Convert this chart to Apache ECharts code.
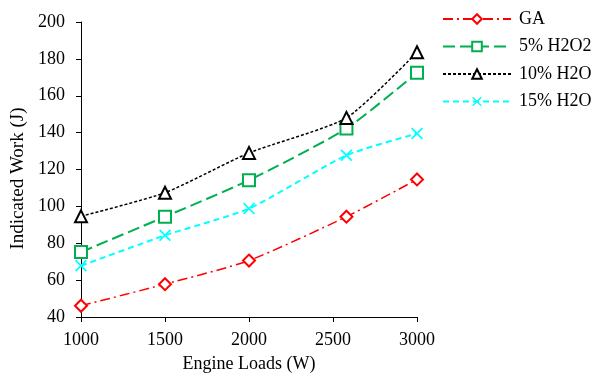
<!DOCTYPE html>
<html>
<head>
<meta charset="utf-8">
<script src="https://cdn.jsdelivr.net/npm/echarts@6/dist/echarts.min.js"></script>
<style>
  html, body { margin: 0; padding: 0; background: #fff; }
  #chart { width: 594px; height: 378px; }
</style>
</head>
<body>
<div id="chart"></div>
<script>
// engine loads (W)
var loads = [1000, 1500, 2000, 2580, 3000];
var seriesNames = ['GA', '5% H2O2', '10% H2O', '15% H2O'];
var gaWork = [46.1, 57.8, 70.6, 94.4, 114.6];
var h2o2Work = [75.2, 94.4, 114.2, 142.2, 172.5];
var h2o10Work = [94.6, 107.4, 129.0, 148.0, 183.6];
var h2o15Work = [67.8, 84.3, 98.8, 127.7, 139.5];
var yTicks = [40, 60, 80, 100, 120, 140, 160, 180, 200];

var font = '"Liberation Serif", "Times New Roman", serif';
var crossPath = 'path://M0,1L1,0L5,4L9,0L10,1L6,5L10,9L9,10L5,6L1,10L0,9L4,5Z';

function pairs(vals) {
    return loads.map(function (x, i) { return [x, vals[i]]; });
}

var myChart = echarts.init(document.getElementById('chart'));
var option = {
    animation: false,
    grid: { left: 81, right: 177, top: 22, bottom: 60 },
    legend: {
        orient: 'vertical',
        left: 437,
        top: 5,
        itemWidth: 68,
        itemHeight: 12,
        itemGap: 9.5,
        textStyle: { fontFamily: font, fontSize: 18, lineHeight: 18, color: '#000', padding: [0, 0, 0, 3] },
        data: seriesNames
    },
    xAxis: {
        type: 'value',
        min: 1000,
        max: 3000,
        interval: 500,
        name: 'Engine Loads (W)',
        nameLocation: 'middle',
        nameGap: 38,
        nameTextStyle: { fontFamily: font, fontSize: 18, color: '#000' },
        axisLine: { lineStyle: { color: '#000', width: 1 } },
        axisTick: { inside: false, length: 5, lineStyle: { color: '#000' } },
        axisLabel: {
            fontFamily: font, fontSize: 18, color: '#000', margin: 14,
            formatter: function (v) { return String(v); }
        },
        splitLine: { show: false }
    },
    yAxis: {
        type: 'value',
        min: yTicks[0],
        max: yTicks[yTicks.length - 1],
        interval: 20,
        name: 'Indicated Work (J)',
        nameLocation: 'middle',
        nameGap: 53,
        nameTextStyle: { fontFamily: font, fontSize: 19, color: '#000', padding: [0, 18, 0, 0] },
        axisLine: { show: true, lineStyle: { color: '#000', width: 1 } },
        axisTick: { show: true, inside: false, length: 5, lineStyle: { color: '#000' } },
        axisLabel: { fontFamily: font, fontSize: 18, color: '#000', margin: 16 },
        splitLine: { show: false }
    },
    series: [
        {
            name: seriesNames[0],
            type: 'line',
            data: pairs(gaWork),
            smooth: 0.2,
            symbol: 'emptyDiamond',
            symbolSize: 12,
            color: '#FF0000',
            lineStyle: { color: '#FF0000', width: 1.5, type: [10, 4, 2, 4] },
            itemStyle: { color: '#FF0000', borderWidth: 1.5 }
        },
        {
            name: seriesNames[1],
            type: 'line',
            data: pairs(h2o2Work),
            smooth: 0.2,
            symbol: 'emptyRect',
            symbolSize: 12,
            color: '#00B050',
            lineStyle: { color: '#00B050', width: 2, type: [12, 5] },
            itemStyle: { color: '#00B050', borderWidth: 1.5 }
        },
        {
            name: seriesNames[2],
            type: 'line',
            data: pairs(h2o10Work),
            smooth: 0.2,
            symbol: 'emptyTriangle',
            symbolSize: 12,
            color: '#000000',
            lineStyle: { color: '#000000', width: 1.5, type: [3, 2] },
            itemStyle: { color: '#000000', borderWidth: 1.8 }
        },
        {
            name: seriesNames[3],
            type: 'line',
            data: pairs(h2o15Work),
            smooth: 0.2,
            symbol: crossPath,
            symbolSize: 12,
            color: '#00FFFF',
            lineStyle: { color: '#00FFFF', width: 2, type: [6, 4] },
            itemStyle: { color: '#00FFFF' }
        }
    ]
};
myChart.setOption(option);
</script>
</body>
</html>
